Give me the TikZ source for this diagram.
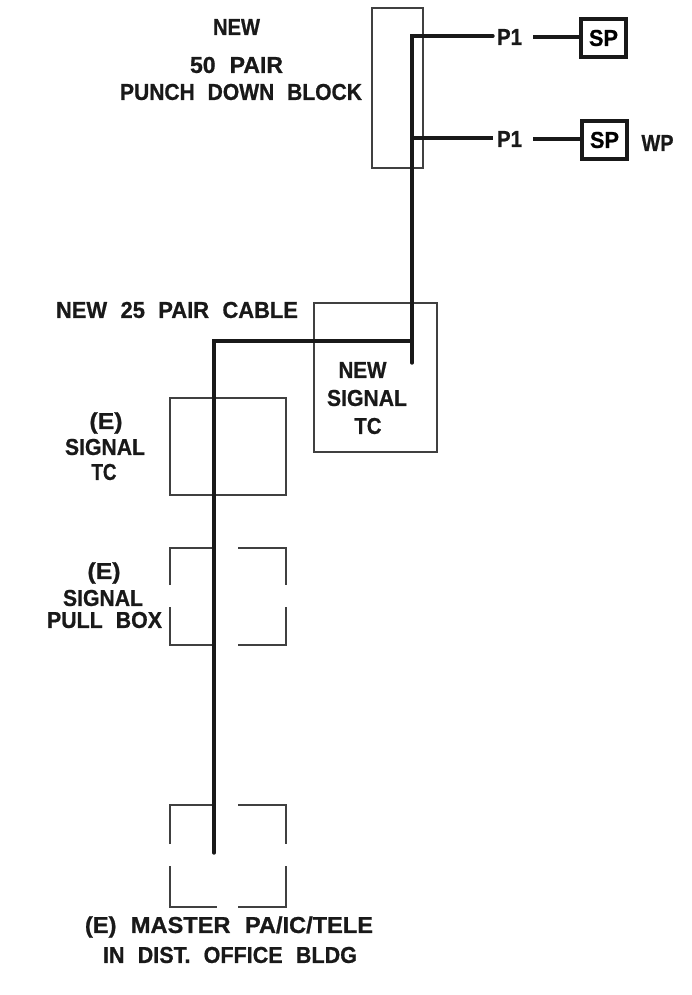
\documentclass[tikz,border=0pt]{standalone}
\usepackage{graphicx}
\usepackage{fontspec}
\setmainfont{Liberation Sans}[WordSpace={2.2},BoldFeatures={FakeBold=0.8}]
\newcommand{\fitw}[2]{\resizebox{#1pt}{\height}{#2}}
\begin{document}
\begin{tikzpicture}[x=1pt,y=-1pt,
  lbl/.style={font=\fontsize{23}{24}\selectfont\bfseries,align=center,inner sep=0pt,text=black!90},
  thinbox/.style={draw=black!75,line width=1.1pt},
  cable/.style={draw=black!90,line width=3.4pt,line join=miter},
  spbox/.style={draw=black!90,line width=3.2pt,minimum width=45pt,minimum height=38pt,inner sep=0pt,font=\fontsize{23}{24}\selectfont\bfseries}]
\useasboundingbox (0,0) rectangle (692,995);
\path[fill=white] (0,0) rectangle (692,995);
% thin boxes
\node[thinbox,minimum width=51pt,minimum height=160pt,inner sep=0pt] (block) at (397.5,88) {};
\node[thinbox,minimum width=123pt,minimum height=149pt,inner sep=0pt] (newtc) at (375.5,377.5) {};
\node[thinbox,minimum width=116pt,minimum height=97pt,inner sep=0pt] (etc) at (228,446.5) {};
% broken boxes
\draw[thinbox] (170,585) -- (170,548) -- (216,548);
\draw[thinbox] (238,548) -- (286,548) -- (286,585);
\draw[thinbox] (170,607) -- (170,645) -- (216,645);
\draw[thinbox] (238,645) -- (286,645) -- (286,607);
\draw[thinbox] (170,844) -- (170,805) -- (216,805);
\draw[thinbox] (238,805) -- (286,805) -- (286,844);
\draw[thinbox] (170,866) -- (170,907) -- (217,907);
\draw[thinbox] (238,907) -- (286,907) -- (286,866);
% SP boxes and labels
\node[spbox] (sp1) at (603.5,38) {\fitw{29}{SP}};
\node[spbox] (sp2) at (604.5,140) {\fitw{29}{SP}};
\node[lbl] (p1a) at (509.5,37) {\fitw{25}{P1}};
\node[lbl] (p1b) at (509.5,139) {\fitw{25}{P1}};
\node[lbl] (wp) at (657.5,143) {\fitw{32}{WP}};
% cable
\coordinate (top) at (412,36);
\coordinate (mid) at (412,138);
\coordinate (tee) at (412,341);
\coordinate (end) at (412,363);
\coordinate (corner) at (214,341);
\coordinate (mend) at (214,853);
\coordinate (a1) at (493,36);
\coordinate (a2) at (493,138);
\coordinate (b1) at (533,37);
\coordinate (b2) at (533,139);
\draw[cable,line cap=round] (a1) -- (top) -- (end);
\draw[cable] (mid) -- (a2);
\draw[cable,line cap=round] (tee) -- (corner) -- (mend);
\draw[cable] (b1) -- (b1 -| sp1.west);
\draw[cable] (b2) -- (b2 -| sp2.west);
% text
\node[lbl] (t1) at (236.5,27) {\fitw{47}{NEW}};
\node[lbl] (t2) at (236.5,65) {\fitw{93}{50 PAIR}};
\node[lbl] (t3) at (241,92) {\fitw{242}{PUNCH DOWN BLOCK}};
\node[lbl] (t4) at (177,310) {\fitw{242}{NEW 25 PAIR CABLE}};
\node[lbl] (t5) at (362.5,370) {\fitw{48}{NEW}};
\node[lbl] (t6) at (367,398) {\fitw{80}{SIGNAL}};
\node[lbl] (t7) at (368,426) {\fitw{27}{TC}};
\node[lbl] (t8) at (106,423) {\fitw{33}{(E)}};
\node[lbl] (t9) at (105,447) {\fitw{80}{SIGNAL}};
\node[lbl] (t10) at (104,472) {\fitw{25}{TC}};
\node[lbl] (t11) at (104,573) {\fitw{33}{(E)}};
\node[lbl] (t12) at (103,598) {\fitw{80}{SIGNAL}};
\node[lbl] (t13) at (104.5,620) {\fitw{115}{PULL BOX}};
\node[lbl] (t14) at (229,927) {\fitw{288}{(E) MASTER PA/IC/TELE}};
\node[lbl] (t15) at (230,955) {\fitw{254}{IN DIST. OFFICE BLDG}};
\end{tikzpicture}
\end{document}
